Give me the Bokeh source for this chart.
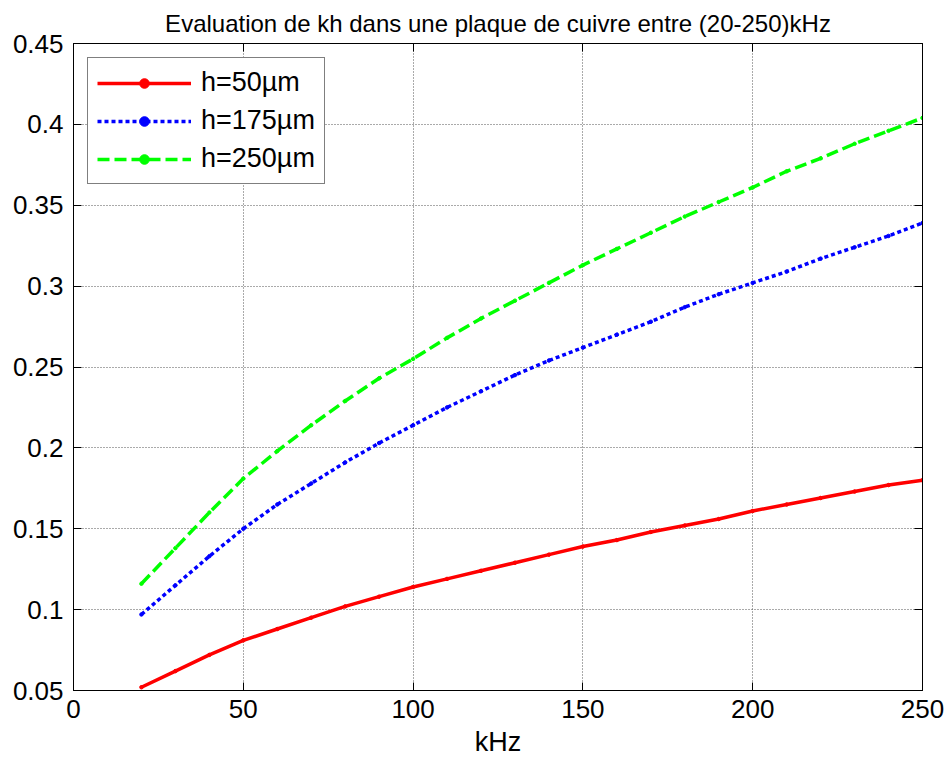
from bokeh.plotting import figure
from bokeh.models import (Range1d, FixedTicker, LinearAxis, Legend, LegendItem,
                          CustomJSTickFormatter)
from bokeh.embed import file_html
from bokeh.resources import INLINE

# ---- data ----
freq_khz = [20, 30, 40, 50, 60, 70, 80, 90, 100, 110, 120, 130, 140, 150,
            160, 170, 180, 190, 200, 210, 220, 230, 240, 250]
kh_50 = [0.052, 0.062, 0.072, 0.081, 0.088, 0.095, 0.102, 0.108, 0.114, 0.119,
         0.124, 0.129, 0.134, 0.139, 0.143, 0.148, 0.152, 0.156, 0.161, 0.165,
         0.169, 0.173, 0.177, 0.180]
kh_175 = [0.097, 0.115, 0.133, 0.150, 0.165, 0.178, 0.191, 0.203, 0.214, 0.225,
          0.235, 0.245, 0.254, 0.262, 0.270, 0.278, 0.287, 0.295, 0.302, 0.309,
          0.317, 0.324, 0.331, 0.339]
kh_250 = [0.116, 0.138, 0.160, 0.181, 0.198, 0.214, 0.229, 0.243, 0.255, 0.268,
          0.280, 0.291, 0.302, 0.313, 0.323, 0.333, 0.343, 0.352, 0.361, 0.371,
          0.379, 0.388, 0.396, 0.404]
series_labels = ["h=50µm", "h=175µm", "h=250µm"]
x_ticks = [0, 50, 100, 150, 200, 250]
y_ticks = [0.05, 0.1, 0.15, 0.2, 0.25, 0.3, 0.35, 0.4, 0.45]
y_tick_labels = ["0.05", "0.1", "0.15", "0.2", "0.25", "0.3", "0.35", "0.4", "0.45"]
title_text = "Evaluation de kh dans une plaque de cuivre entre (20-250)kHz"
x_label = "kHz"

FONT = "Liberation Sans"

p = figure(width=949, height=765, output_backend="svg", toolbar_location=None,
           x_range=Range1d(0, 250), y_range=Range1d(0.05, 0.45),
           min_border_left=73, min_border_right=27, min_border_top=2,
           min_border_bottom=75)
p.background_fill_color = "white"
p.border_fill_color = "white"
p.outline_line_color = "black"
p.outline_line_width = 1

p.title.text = title_text
p.title.align = "center"
p.title.text_font = FONT
p.title.text_font_size = "24px"
p.title.text_font_style = "normal"
p.title.text_color = "black"
p.title.standoff = 14

def style_axis(ax, labels=True):
    ax.axis_line_color = "black"
    ax.major_tick_in = 8
    ax.major_tick_out = 0
    ax.major_tick_line_color = "black"
    ax.minor_tick_line_color = None
    ax.major_label_text_font = FONT
    ax.major_label_text_font_size = "26px"
    ax.major_label_text_color = "black"
    if not labels:
        ax.formatter = CustomJSTickFormatter(code="return ''")
        ax.major_label_standoff = 0

xa = p.xaxis[0]
xa.ticker = FixedTicker(ticks=x_ticks)
style_axis(xa)
xa.major_label_standoff = 9
xa.axis_label = x_label
xa.axis_label_text_font = FONT
xa.axis_label_text_font_size = "27px"
xa.axis_label_text_font_style = "normal"
xa.axis_label_text_color = "black"
xa.axis_label_standoff = 6

ya = p.yaxis[0]
ya.ticker = FixedTicker(ticks=y_ticks)
ya.major_label_overrides = {t: s for t, s in zip(y_ticks, y_tick_labels)}
style_axis(ya)
ya.major_label_standoff = 10

top_ax = LinearAxis(ticker=FixedTicker(ticks=x_ticks))
style_axis(top_ax, labels=False)
p.add_layout(top_ax, "above")
right_ax = LinearAxis(ticker=FixedTicker(ticks=y_ticks))
style_axis(right_ax, labels=False)
p.add_layout(right_ax, "right")

p.xgrid.ticker = FixedTicker(ticks=x_ticks)
p.ygrid.ticker = FixedTicker(ticks=y_ticks)
for g in (p.xgrid[0], p.ygrid[0]):
    g.grid_line_color = "#555555"
    g.grid_line_dash = "1 2"
    g.grid_line_width = 1

series = [
    (kh_50, "#ff0000", "solid"),
    (kh_175, "#0000ff", "4 3"),
    (kh_250, "#00ff00", "12 5"),
]
items = []
for (vals, color, dash), lab in zip(series, series_labels):
    ln = p.line(freq_khz, vals, line_color=color, line_width=3.5,
                line_dash=dash, line_cap="butt")
    sc = p.scatter(freq_khz, vals, marker="circle", size=3.5,
                   fill_color=color, line_color=color)
    items.append(LegendItem(label=lab, renderers=[ln, sc]))

legend = Legend(items=items, location="top_left")
legend.label_text_font = FONT
legend.label_text_font_size = "27px"
legend.label_text_color = "black"
legend.glyph_width = 94
legend.glyph_height = 24
legend.label_standoff = 10
legend.spacing = 7
legend.padding = 9
legend.margin = 14
legend.border_line_color = "black"
legend.border_line_width = 1
legend.background_fill_color = "white"
legend.background_fill_alpha = 1
p.add_layout(legend, "center")

open("out.html", "w").write(file_html(p, INLINE))
